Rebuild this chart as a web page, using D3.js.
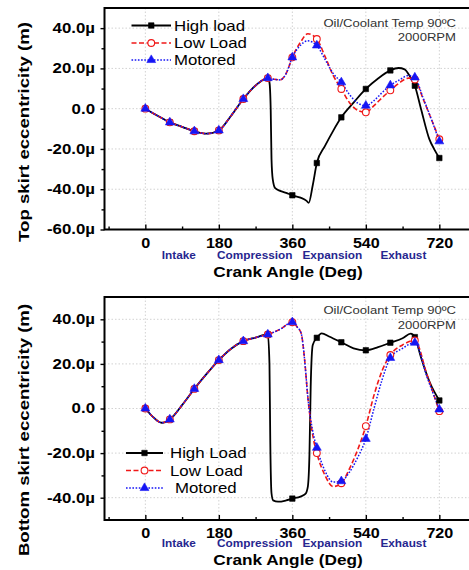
<!DOCTYPE html>
<html>
<head>
<meta charset="utf-8">
<script src="https://cdn.jsdelivr.net/npm/d3@7"></script>
<style>
  body { margin: 0; background: #fff; }
  svg { display: block; font-family: "Liberation Sans", Arial, sans-serif; }
</style>
</head>
<body>
<svg id="chart" width="469" height="570"></svg>
<script>
// ---- axis ticks and labels ----
const angleTicks = [0, 180, 360, 540, 720];
const angleMinor = [-90, 90, 270, 450, 630];
const strokeNames = ["Intake", "Compression", "Expansion", "Exhaust"];
const strokeAngles = [82, 268, 458, 632];
const seriesNames = ["High Load", "Low Load", "Motored"];
const topLegendNames = ["High load", "Low Load", "Motored"];
const bottomLegendNames = ["High Load", "Low Load", "Motored"];
const topYTicks = [-60, -40, -20, 0, 20, 40];
const topYMinor = [-50, -30, -10, 10, 30];
const bottomYTicks = [-40, -20, 0, 20, 40];
const bottomYMinor = [-30, -10, 10, 30];

// ---- top skirt eccentricity [crank angle deg, micrometres] ----
const topShared = [[0,0],[30,-3.5],[60,-6.8],[90,-9],[120,-11.2],[150,-12.4],[180,-10.8],
  [210,-3.5],[240,4.8],[270,11.5],[300,15.2]];
const topHigh = topShared.concat([[304,13],[307,0],[309,-25],[312,-35],[318,-39.5],[330,-40.8],
  [345,-41.8],[360,-43],[380,-44.2],[395,-45.8],[400,-46.8],[410,-38],[420,-27],[440,-18.5],
  [460,-11],[480,-4.3],[510,3],[540,9.8],[570,15],[600,19],[620,20.2],[635,19.5],[648,16],
  [660,11.4],[675,0],[696,-15.4],[708,-20.3],[720,-24.5]]);
const topLow = topShared.concat([[315,14.6],[330,14.3],[345,17.5],[360,25.5],[380,33],[398,37.2],
  [420,34.6],[440,26],[460,16.5],[480,9.8],[500,3],[520,-0.8],[540,-1.8],[560,1.5],[580,5.5],
  [600,9.1],[620,12.5],[645,15.2],[660,14.5],[680,5],[700,-5],[720,-15.2]]);
const topMot = topShared.concat([[315,14.6],[330,14.3],[345,17.5],[360,25.5],[380,31.5],[397,33.7],
  [420,31.4],[440,24.5],[460,17.5],[480,13.1],[500,7],[520,2.8],[540,1.5],[560,4],[580,8],
  [600,11.6],[620,14],[645,16.5],[660,15.5],[680,5.5],[700,-5],[720,-16.2]]);

// ---- bottom skirt eccentricity [crank angle deg, micrometres] ----
const botShared = [[0,0],[20,-4],[40,-6.4],[60,-4.9],[90,1.5],[120,8.8],[150,15.5],[180,21.7],
  [210,26.8],[240,30.2],[270,31.8],[300,33.2]];
const botHigh = botShared.concat([[304,20],[306,-15],[309,-38],[313,-41.2],[325,-41.8],[345,-41.2],
  [360,-40.4],[380,-39.5],[392,-38.3],[398,-35],[402,-20],[405,10],[410,28.5],[420,31.7],
  [432,33.7],[450,32.3],[480,29.7],[510,27],[540,26.1],[570,27.5],[600,29.5],[630,31.5],
  [650,33.6],[660,32],[675,23],[696,12],[720,3.6]]);
const botLow = botShared.concat([[330,35.5],[360,38.7],[372,36.5],[382,33.5],[390,22],[398,5],
  [405,-6],[412,-14],[420,-20],[440,-30],[460,-35],[480,-33.5],[500,-27],[520,-18.5],[540,-7.9],
  [560,6],[580,17],[600,24],[630,28.5],[660,30.5],[690,15],[720,-1.2]]);
const botMot = botShared.concat([[330,35.5],[360,38.7],[372,36.5],[382,33.5],[390,22],[398,5],
  [405,-5],[412,-12],[420,-17.6],[440,-28],[460,-33],[480,-32.6],[500,-28.5],[520,-22],[540,-13.6],
  [560,0],[580,13],[600,22.7],[630,27],[660,29.5],[690,14],[720,-0.4]]);

// ---- styling per series ----
const styles = [
  { color: "#000000", dash: null, width: 1.8, symbol: d3.symbolSquare, size: 30, fill: "#000000" },
  { color: "#f01818", dash: "5,2.5", width: 1.6, symbol: d3.symbolCircle, size: 36, fill: "#ffffff" },
  { color: "#1515f5", dash: "1.6,1.6", width: 1.5, symbol: d3.symbolTriangle, size: 34, fill: "#1515f5" }
];

const svg = d3.select("#chart");
const x = d3.scaleLinear().domain([-100, 800]).range([104.5, 472]);

// stretch text horizontally along its baseline
function widen(sel, k) {
  sel.each(function () {
    const w = this.getComputedTextLength();
    this.setAttribute("textLength", (w * k).toFixed(1));
    this.setAttribute("lengthAdjust", "spacingAndGlyphs");
  });
}

const tickFmt = v => v === 0 ? "0.0" : v.toFixed(1) + "\u00b5";

const panels = [
  {
    yDomain: [-60, 50], yRange: [229.5, 8], yTicks: topYTicks, yMinor: topYMinor,
    series: [topHigh, topLow, topMot], legendNames: topLegendNames,
    legend: { x0: 131.5, x1: 171, tx: 174, ys: [25.5, 43, 60], dx: [0, 0, 0] },
    ylabel: "Top skirt eccentricity (m)", ylabelY: 132,
    noteY: [26.5, 41], tickBase: 248, strokeBase: 258.5, xlabelBase: 276.5
  },
  {
    yDomain: [-50, 50], yRange: [520, 297], yTicks: bottomYTicks, yMinor: bottomYMinor,
    series: [botHigh, botLow, botMot], legendNames: bottomLegendNames,
    legend: { x0: 126, x1: 163, tx: 170, ys: [453, 470.5, 488], dx: [0, 0, 5] },
    ylabel: "Bottom skirt eccentricity (m)", ylabelY: 430,
    noteY: [314, 329], tickBase: 538, strokeBase: 547, xlabelBase: 565
  }
];

panels.forEach(p => {
  const y = d3.scaleLinear().domain(p.yDomain).range(p.yRange);
  const g = svg.append("g");
  const [xl, xr] = x.range();
  const [yb, yt] = p.yRange;

  // dotted grid
  const grid = g.append("g").attr("stroke", "#d2d2d2").attr("stroke-width", 1).attr("stroke-dasharray", "1.5,2");
  grid.selectAll("line.v").data(angleTicks).join("line")
    .attr("x1", d => x(d)).attr("x2", d => x(d)).attr("y1", yt).attr("y2", yb);
  grid.selectAll("line.h").data(p.yTicks.filter(v => v > p.yDomain[0] && v < p.yDomain[1])).join("line")
    .attr("x1", xl).attr("x2", xr).attr("y1", d => y(d)).attr("y2", d => y(d));

  // curves
  const line = d3.line().x(d => x(d[0])).y(d => y(d[1])).curve(d3.curveMonotoneX);
  p.series.forEach((s, i) => {
    const st = styles[i];
    g.append("path").datum(s)
      .attr("fill", "none").attr("stroke", st.color).attr("stroke-width", st.width)
      .attr("stroke-dasharray", st.dash).attr("stroke-linejoin", "round")
      .attr("d", line);
  });
  p.series.forEach((s, i) => {
    const st = styles[i];
    g.append("g").selectAll("path").data(s.filter(d => d[0] % 60 === 0)).join("path")
      .attr("transform", d => `translate(${x(d[0])},${y(d[1])})`)
      .attr("d", d3.symbol().type(st.symbol).size(st.size))
      .attr("fill", st.fill).attr("stroke", st.color).attr("stroke-width", i === 1 ? 1.1 : 0.6);
  });

  // frame
  g.append("rect").attr("x", xl).attr("y", yt).attr("width", xr - xl).attr("height", yb - yt)
    .attr("fill", "none").attr("stroke", "#000").attr("stroke-width", 2);

  // x axis (ticks inward)
  const xAxis = g.append("g").attr("transform", `translate(0,${yb})`)
    .call(d3.axisBottom(x).tickValues(angleTicks).tickSize(-5).tickPadding(p.tickBase - yb - 10).tickFormat(d3.format("d")));
  g.append("g").attr("transform", `translate(0,${yb})`)
    .call(d3.axisBottom(x).tickValues(angleMinor).tickSize(-3).tickFormat(""));
  // y axis (ticks outward)
  const yAxis = g.append("g").attr("transform", `translate(${xl},0)`)
    .call(d3.axisLeft(y).tickValues(p.yTicks).tickSize(4).tickPadding(5.5).tickFormat(tickFmt));
  g.append("g").attr("transform", `translate(${xl},0)`)
    .call(d3.axisLeft(y).tickValues(p.yMinor).tickSize(3).tickFormat(""));
  g.selectAll(".domain").remove();
  g.selectAll(".tick line").attr("stroke", "#000").attr("stroke-width", 1.4);
  xAxis.selectAll("text").attr("font-size", 14).attr("font-weight", "bold").attr("fill", "#000")
    .attr("font-family", "Liberation Sans, Arial, sans-serif");
  yAxis.selectAll("text").attr("font-size", 14).attr("font-weight", "bold").attr("fill", "#000")
    .attr("font-family", "Liberation Sans, Arial, sans-serif");
  widen(xAxis.selectAll("text"), 1.15);
  widen(yAxis.selectAll("text"), 1.2);

  // stroke phase names
  const sn = g.append("g").selectAll("text").data(strokeNames).join("text")
    .attr("x", (d, i) => x(strokeAngles[i])).attr("y", p.strokeBase)
    .attr("text-anchor", "middle").attr("font-size", 10).attr("font-weight", "bold")
    .attr("fill", "#26268f").text(d => d);
  widen(sn, 1.18);

  // axis titles
  const xt = g.append("text").attr("x", 288).attr("y", p.xlabelBase).attr("text-anchor", "middle")
    .attr("font-size", 15.5).attr("font-weight", "bold").text("Crank Angle (Deg)");
  widen(xt, 1.11);
  const yl = g.append("g").attr("transform", `translate(29,${p.ylabelY}) rotate(-90)`)
    .append("text").attr("text-anchor", "middle").attr("font-size", 15).attr("font-weight", "bold")
    .text(p.ylabel);
  widen(yl, 1.24);

  // operating condition note
  const note = g.append("g").selectAll("text").data(["Oil/Coolant Temp 90\u00baC", "2000RPM"]).join("text")
    .attr("x", 456).attr("y", (d, i) => p.noteY[i]).attr("text-anchor", "end")
    .attr("font-size", 11).attr("fill", "#333").text(d => d);
  widen(note, 1.19);

  // legend
  const L = p.legend;
  p.legendNames.forEach((name, i) => {
    const st = styles[i];
    const ly = L.ys[i];
    g.append("line").attr("x1", L.x0).attr("x2", L.x1).attr("y1", ly).attr("y2", ly)
      .attr("stroke", st.color).attr("stroke-width", st.width).attr("stroke-dasharray", st.dash);
    g.append("path").attr("transform", `translate(${(L.x0 + L.x1) / 2},${ly})`)
      .attr("d", d3.symbol().type(st.symbol).size(st.size))
      .attr("fill", st.fill).attr("stroke", st.color).attr("stroke-width", i === 1 ? 1.1 : 0.6);
    const t = g.append("text").attr("x", L.tx + L.dx[i]).attr("y", ly).attr("dy", "0.36em")
      .attr("font-size", 15).attr("fill", "#000").text(name);
    widen(t, 1.12);
  });
});
</script>
</body>
</html>
